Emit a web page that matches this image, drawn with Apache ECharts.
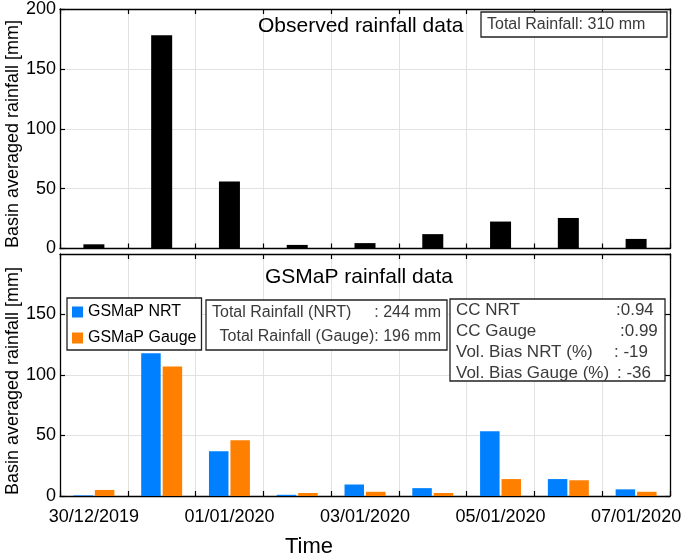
<!DOCTYPE html>
<html>
<head>
<meta charset="utf-8">
<script src="https://cdn.jsdelivr.net/npm/echarts@6/dist/echarts.min.js"></script>
<style>html,body{margin:0;padding:0;background:#fff}#c{width:685px;height:556px}</style>
</head>
<body>
<div id="c"></div>
<script>
const days = ['30/12/2019','31/12/2019','01/01/2020','02/01/2020','03/01/2020','04/01/2020','05/01/2020','06/01/2020','07/01/2020'];
const observed = [3.5, 178, 56, 3, 4.5, 12, 22.5, 25.5, 8];
const gsmapNRT = [0.5, 118, 37, 1, 9.5, 6.5, 53.5, 14, 5.5];
const gsmapGauge = [5, 107, 46, 2.5, 3.5, 2.5, 14, 13, 3.5];
const yMin = 0, yMax = 200, yStep = 50;

const FONT = '"Liberation Sans", Arial, Helvetica, sans-serif';
const chart = echarts.init(document.getElementById('c'), null, {renderer: 'canvas'});

const axisLine = {show: true, onZero: false, lineStyle: {color: '#000', width: 1.3}};
const gridLine = {show: true, interval: 0, lineStyle: {color: '#e2e2e2', width: 1}};

function xAx(gridIndex, pos, showLabel) {
  return {
    type: 'category', data: days, gridIndex, position: pos, boundaryGap: true,
    axisLine,
    axisTick: {show: true, inside: true, length: 5, interval: 0, alignWithLabel: false, lineStyle: {color: '#000', width: 1.2}},
    axisLabel: {show: showLabel, interval: 1, margin: 12, color: '#000', fontSize: 18, fontFamily: FONT},
    splitLine: pos === 'bottom' ? gridLine : {show: false}
  };
}
function yAx(gridIndex, pos, showLabel, hideMax) {
  return {
    type: 'value', gridIndex, position: pos, min: yMin, max: yMax, interval: yStep,
    axisLine,
    axisTick: {show: true, inside: true, length: 5, lineStyle: {color: '#000', width: 1.2}},
    axisLabel: {show: showLabel, margin: 4, color: '#000', fontSize: 18, fontFamily: FONT, showMaxLabel: !hideMax},
    splitLine: pos === 'left' ? {show: true, lineStyle: {color: '#e2e2e2', width: 1}} : {show: false}
  };
}

function txt(text, x, y, size, opts) {
  opts = opts || {};
  return {
    type: 'text', z: 110, x, y, rotation: opts.rotation || 0,
    style: {text, x: 0, y: 0, fill: opts.color || '#000', font: size + 'px ' + FONT,
      textAlign: opts.align || 'left', textVerticalAlign: 'middle'}
  };
}
function box(x, y, w, h) {
  return {type: 'rect', z: 100, shape: {x, y, width: w, height: h},
    style: {fill: '#fff', stroke: '#222', lineWidth: 1.3}};
}
const gray = '#3a3a3a';

chart.setOption({
  animation: false,
  backgroundColor: '#fff',
  grid: [
    {left: 60, right: 15, top: 6, height: 242.5},
    {left: 60, right: 15, top: 254, height: 242}
  ],
  xAxis: [xAx(0, 'bottom', false), xAx(0, 'top', false), xAx(1, 'bottom', true), xAx(1, 'top', false)],
  yAxis: [yAx(0, 'left', true, false), yAx(0, 'right', false, false), yAx(1, 'left', true, true), yAx(1, 'right', false, true)],
  legend: {
    show: true, left: 67, top: 298, orient: 'vertical', z: 120,
    data: ['GSMaP NRT', 'GSMaP Gauge'],
    backgroundColor: '#fff', borderColor: '#222', borderWidth: 1.3, borderRadius: 0,
    padding: [6, 5, 4, 5], itemWidth: 11, itemHeight: 11, itemGap: 10, itemTextGap: 6,
    icon: 'rect',
    textStyle: {color: '#000', fontSize: 16, fontFamily: FONT, lineHeight: 16}
  },
  series: [
    {name: 'Observed', type: 'bar', xAxisIndex: 0, yAxisIndex: 0, data: observed, barWidth: 21,
      itemStyle: {color: '#000'}},
    {name: 'GSMaP NRT', type: 'bar', xAxisIndex: 2, yAxisIndex: 2, data: gsmapNRT, barWidth: 19.5, barGap: '10%',
      itemStyle: {color: '#0080ff'}},
    {name: 'GSMaP Gauge', type: 'bar', xAxisIndex: 2, yAxisIndex: 2, data: gsmapGauge, barWidth: 19.5, barGap: '10%',
      itemStyle: {color: '#ff8000'}}
  ],
  graphic: [
    txt('Observed rainfall data', 258, 26, 21),
    box(481, 12, 186, 25),
    txt('Total Rainfall: 310 mm', 487, 25, 16, {color: gray}),
    txt('GSMaP rainfall data', 265, 277, 21),
    box(206, 300, 241, 50),
    txt('Total Rainfall (NRT)', 212, 313, 16, {color: gray}),
    txt(': 244 mm', 441, 313, 16, {color: gray, align: 'right'}),
    txt('Total Rainfall (Gauge): 196 mm', 441, 337, 16, {color: gray, align: 'right'}),
    box(450, 299, 215, 82),
    txt('CC NRT', 456, 310, 17, {color: gray}),
    txt('CC Gauge', 456, 331, 17, {color: gray}),
    txt('Vol. Bias NRT (%)', 456, 352, 17, {color: gray}),
    txt('Vol. Bias Gauge (%)', 456, 373, 17, {color: gray}),
    txt(':0.94', 616, 310, 17, {color: gray}),
    txt(':0.99', 620, 331, 17, {color: gray}),
    txt(': -19', 614, 352, 17, {color: gray}),
    txt(': -36', 617, 373, 17, {color: gray}),
    txt('Basin averaged rainfall [mm]', 13, 134, 18, {align: 'center', rotation: Math.PI / 2}),
    txt('Basin averaged rainfall [mm]', 13, 381, 18, {align: 'center', rotation: Math.PI / 2}),
    txt('Time', 309, 547, 22, {align: 'center'})
  ]
});
</script>
</body>
</html>
